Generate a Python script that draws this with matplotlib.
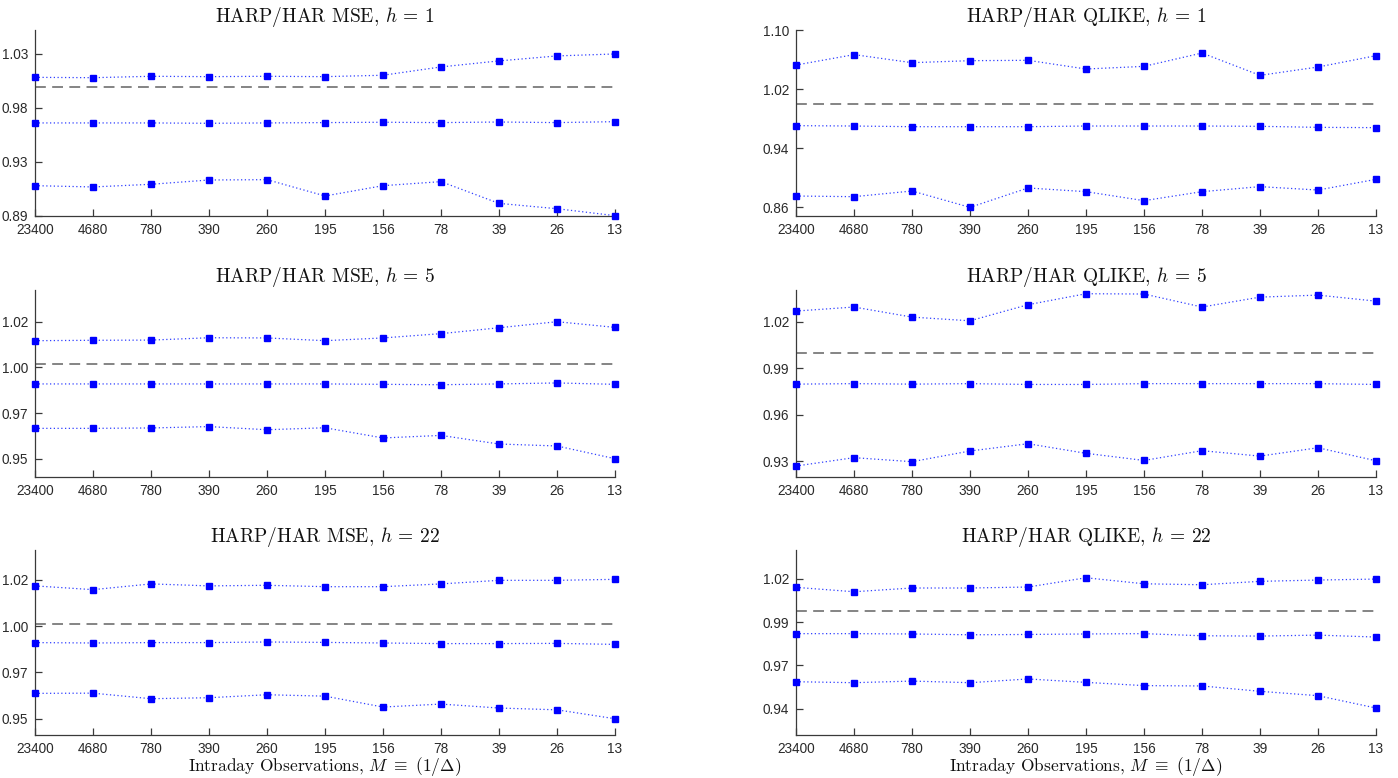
import numpy as np
import matplotlib
matplotlib.use("Agg")
import matplotlib.pyplot as plt

plt.rcParams['mathtext.fontset'] = 'cm'
plt.rcParams['font.family'] = ['Liberation Sans', 'DejaVu Sans']
plt.rcParams['axes.unicode_minus'] = False

# ---------------- data ----------------
x_labels = ['23400', '4680', '780', '390', '260', '195', '156', '78', '39', '26', '13']

mse_h1_upper = [1.0098, 1.0095, 1.0107, 1.0104, 1.0107, 1.0104, 1.0116, 1.0188, 1.0240, 1.0283, 1.0300]
mse_h1_mid = [0.9704, 0.9704, 0.9704, 0.9701, 0.9704, 0.9707, 0.9710, 0.9707, 0.9712, 0.9707, 0.9715]
mse_h1_lower = [0.9162, 0.9151, 0.9174, 0.9211, 0.9214, 0.9073, 0.9162, 0.9197, 0.9009, 0.8963, 0.8903]

qlike_h1_upper = [1.0525, 1.0666, 1.0557, 1.0584, 1.0589, 1.0471, 1.0507, 1.0688, 1.0385, 1.0498, 1.0652]
qlike_h1_mid = [0.9703, 0.9698, 0.9689, 0.9689, 0.9689, 0.9698, 0.9698, 0.9698, 0.9694, 0.9680, 0.9676]
qlike_h1_lower = [0.8749, 0.8740, 0.8817, 0.8595, 0.8858, 0.8808, 0.8686, 0.8808, 0.8876, 0.8830, 0.8975]

mse_h5_upper = [1.0103, 1.0105, 1.0106, 1.0118, 1.0117, 1.0103, 1.0117, 1.0139, 1.0169, 1.0200, 1.0171]
mse_h5_mid = [0.9882, 0.9882, 0.9882, 0.9882, 0.9882, 0.9882, 0.9880, 0.9878, 0.9882, 0.9887, 0.9880]
mse_h5_lower = [0.9655, 0.9655, 0.9657, 0.9664, 0.9648, 0.9658, 0.9606, 0.9619, 0.9575, 0.9565, 0.9500]

qlike_h5_upper = [1.0269, 1.0295, 1.0230, 1.0206, 1.0310, 1.0381, 1.0379, 1.0295, 1.0359, 1.0372, 1.0333]
qlike_h5_mid = [0.9797, 0.9800, 0.9797, 0.9800, 0.9795, 0.9795, 0.9800, 0.9800, 0.9800, 0.9800, 0.9795]
qlike_h5_lower = [0.9268, 0.9322, 0.9296, 0.9365, 0.9412, 0.9350, 0.9304, 0.9367, 0.9332, 0.9386, 0.9302]

mse_h22_upper = [1.0170, 1.0151, 1.0180, 1.0170, 1.0173, 1.0166, 1.0166, 1.0180, 1.0198, 1.0198, 1.0203]
mse_h22_mid = [0.9884, 0.9882, 0.9884, 0.9884, 0.9887, 0.9885, 0.9882, 0.9879, 0.9879, 0.9880, 0.9875]
mse_h22_lower = [0.9628, 0.9629, 0.9601, 0.9606, 0.9621, 0.9614, 0.9559, 0.9574, 0.9554, 0.9545, 0.9500]

qlike_h22_upper = [1.0147, 1.0120, 1.0143, 1.0143, 1.0149, 1.0206, 1.0169, 1.0163, 1.0184, 1.0192, 1.0198]
qlike_h22_mid = [0.9862, 0.9862, 0.9860, 0.9855, 0.9857, 0.9860, 0.9862, 0.9849, 0.9847, 0.9853, 0.9841]
qlike_h22_lower = [0.9566, 0.9560, 0.9570, 0.9560, 0.9583, 0.9562, 0.9542, 0.9540, 0.9507, 0.9480, 0.9404]

ref_levels = [1.0015, 1.0, 0.9982, 1.0, 0.9978, 1.0]

titles = ['HARP/HAR MSE, $h$ = 1', 'HARP/HAR QLIKE, $h$ = 1',
          'HARP/HAR MSE, $h$ = 5', 'HARP/HAR QLIKE, $h$ = 5',
          'HARP/HAR MSE, $h$ = 22', 'HARP/HAR QLIKE, $h$ = 22']

ytick_ranges = [(0.89, 1.03), (0.86, 1.10), (0.95, 1.02), (0.93, 1.02), (0.95, 1.02), (0.94, 1.02)]
ytick_labels = [['0.89', '0.93', '0.98', '1.03'], ['0.86', '0.94', '1.02', '1.10'],
                ['0.95', '0.97', '1.00', '1.02'], ['0.93', '0.96', '0.99', '1.02'],
                ['0.95', '0.97', '1.00', '1.02'], ['0.94', '0.97', '0.99', '1.02']]
ylims = [(0.89, 1.0507), (0.8478, 1.10), (0.9408, 1.0362), (0.9199, 1.0405), (0.9418, 1.0351), (0.9238, 1.0377)]

panels = [(mse_h1_upper, mse_h1_mid, mse_h1_lower),
          (qlike_h1_upper, qlike_h1_mid, qlike_h1_lower),
          (mse_h5_upper, mse_h5_mid, mse_h5_lower),
          (qlike_h5_upper, qlike_h5_mid, qlike_h5_lower),
          (mse_h22_upper, mse_h22_mid, mse_h22_lower),
          (qlike_h22_upper, qlike_h22_mid, qlike_h22_lower)]

xlabel = r'Intraday Observations, $M\ \equiv\ (1/\Delta)$'

# ---------------- figure ----------------
W, H = 1398, 778
fig = plt.figure(figsize=(W / 100, H / 100), dpi=100)

col_left = [35, 796]
col_width = 580
row_tb = [(30, 216), (290, 476.7), (550, 735)]

axis_col = '#3a3a3a'
x = np.arange(len(x_labels))

for i, (series, title) in enumerate(zip(panels, titles)):
    r, c = divmod(i, 2)
    top, bot = row_tb[r]
    ax = fig.add_axes([col_left[c] / W, 1 - bot / H, col_width / W, (bot - top) / H])
    lo, hi = ytick_ranges[i]
    ax.axhline(ref_levels[i], color='#707070', lw=1.2, ls=(0, (6.5, 3.8)), zorder=1)
    for s in series:
        ax.plot(x, s, ls=(0, (1, 2)), lw=0.9, color='#3040ff', marker='s',
                markersize=5, markerfacecolor='#0000ff', markeredgecolor='#0000ff',
                clip_on=False, zorder=3)
    ax.set_xlim(0, len(x_labels) - 1)
    ax.set_ylim(*ylims[i])
    ax.set_xticks(x)
    ax.set_xticklabels(x_labels)
    ax.set_yticks(np.linspace(lo, hi, 4))
    ax.set_yticklabels(ytick_labels[i])
    for sp in ['top', 'right']:
        ax.spines[sp].set_visible(False)
    for sp in ['left', 'bottom']:
        ax.spines[sp].set_color(axis_col)
        ax.spines[sp].set_linewidth(0.9)
    ax.tick_params(direction='in', length=5, width=0.9, color=axis_col,
                   labelcolor='#2a2a2a', labelsize=9.8)
    ax.tick_params(axis='y', pad=5)
    ax.tick_params(axis='x', pad=5)
    ax.set_title(title, fontsize=14, pad=6, color='#111111', family='cmr10')
    if r == 2:
        ax.set_xlabel(xlabel, fontsize=12.5, labelpad=-1, color='#111111', family='cmr10')

fig.savefig('out.png', dpi=100)
